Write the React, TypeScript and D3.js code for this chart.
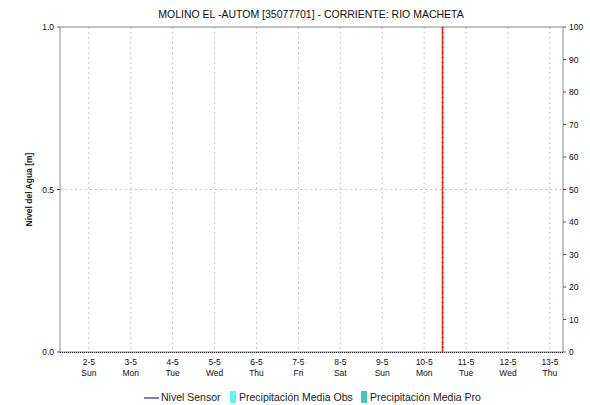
import React from "react";
import * as d3 from "d3";

const title = "MOLINO EL -AUTOM [35077701] - CORRIENTE: RIO MACHETA";
const yLabel = "Nivel del Agua [m]";
const dayDates = ["2021-05-02","2021-05-03","2021-05-04","2021-05-05","2021-05-06","2021-05-07","2021-05-08","2021-05-09","2021-05-10","2021-05-11","2021-05-12","2021-05-13"];
const dayLabels = ["2-5","3-5","4-5","5-5","6-5","7-5","8-5","9-5","10-5","11-5","12-5","13-5"];
const weekdays = ["Sun","Mon","Tue","Wed","Thu","Fri","Sat","Sun","Mon","Tue","Wed","Thu"];
const leftTicks = [0, 0.5, 1.0];
const rightTicks = [0,10,20,30,40,50,60,70,80,90,100];
const domainStart = "2021-05-01T07:30:00";
const domainEnd = "2021-05-13T07:30:00";
const nowMarker = "2021-05-10T10:30:00";
const legendItems = [
  { label: "Nivel Sensor", kind: "line", color: "#00008b" },
  { label: "Precipitación Media Obs", kind: "box", color: "#5ff5f5" },
  { label: "Precipitación Media Pro", kind: "box", color: "#3cc8c4" },
];

export default function App() {
  const W = 590, H = 405;
  const L = 60, R = 563, T = 27, B = 352;
  const x = d3.scaleTime().domain([new Date(domainStart), new Date(domainEnd)]).range([L, R]);
  const yL = d3.scaleLinear().domain([0, 1]).range([B, T]);
  const yR = d3.scaleLinear().domain([0, 100]).range([B, T]);
  const font = "'Liberation Sans', Arial, sans-serif";
  const xm = x(new Date(nowMarker));
  const legendX = [144, 230, 361];
  return (
    <svg width={W} height={H} style={{ position: "absolute", left: 0, top: 0, background: "#fff" }} fontFamily={font}>
      <rect x={0} y={0} width={W} height={H} fill="#fff" />
      <text x={311} y={18} textAnchor="middle" fontSize={10.5} fill="#111">{title}</text>
      {/* grid */}
      {dayDates.map((d, i) => (
        <line key={"g" + i} x1={x(new Date(d))} x2={x(new Date(d))} y1={T} y2={B} stroke="#c8c8c8" strokeDasharray="2,3" />
      ))}
      <line x1={L} x2={R} y1={yL(0.5)} y2={yL(0.5)} stroke="#c8c8c8" strokeDasharray="2,3" />
      {/* frame */}
      <line x1={L} x2={R} y1={T} y2={T} stroke="#888" />
      <line x1={L} x2={L} y1={T} y2={B} stroke="#888" />
      <line x1={R} x2={R} y1={T} y2={B} stroke="#888" />
      <line x1={L} x2={R} y1={B} y2={B} stroke="#888" />
      <line x1={L} x2={R} y1={B + 0.5} y2={B + 0.5} stroke="#222" strokeDasharray="1,1" />
      {/* left axis */}
      {leftTicks.map((v) => (
        <g key={"l" + v}>
          <line x1={L - 3} x2={L} y1={yL(v)} y2={yL(v)} stroke="#555" />
          <text x={L - 6} y={yL(v) + 3} textAnchor="end" fontSize={8.5} fill="#111">{v.toFixed(1)}</text>
        </g>
      ))}
      <text transform={`translate(32,${(T + B) / 2}) rotate(-90)`} textAnchor="middle" fontSize={8.5} fontWeight="bold" fill="#222">{yLabel}</text>
      {/* right axis */}
      {rightTicks.map((v) => (
        <g key={"r" + v}>
          <line x1={R} x2={R + 3} y1={yR(v)} y2={yR(v)} stroke="#555" />
          <text x={R + 6} y={yR(v) + 3} textAnchor="start" fontSize={8.5} fill="#111">{v}</text>
        </g>
      ))}
      {/* x labels */}
      {dayDates.map((d, i) => (
        <g key={"x" + i}>
          <text x={x(new Date(d))} y={365} textAnchor="middle" fontSize={8.5} fill="#111">{dayLabels[i]}</text>
          <text x={x(new Date(d))} y={376} textAnchor="middle" fontSize={8.5} fill="#111">{weekdays[i]}</text>
        </g>
      ))}
      {/* now marker */}
      <line x1={xm} x2={xm} y1={T} y2={B} stroke="#ff2020" strokeWidth={1.5} />
      <line x1={xm + 0.5} x2={xm + 0.5} y1={T} y2={B} stroke="#b00000" strokeWidth={1} strokeDasharray="1,4" />
      {/* legend */}
      {legendItems.map((it, i) => (
        <g key={"lg" + i}>
          {it.kind === "line" ? (
            <line x1={legendX[i]} x2={legendX[i] + 15} y1={398} y2={398} stroke={it.color} />
          ) : (
            <rect x={legendX[i]} y={391} width={6} height={12} fill={it.color} />
          )}
          <text x={legendX[i] + (it.kind === "line" ? 17 : 9)} y={401} fontSize={10.5} fill="#222">{it.label}</text>
        </g>
      ))}
    </svg>
  );
}
